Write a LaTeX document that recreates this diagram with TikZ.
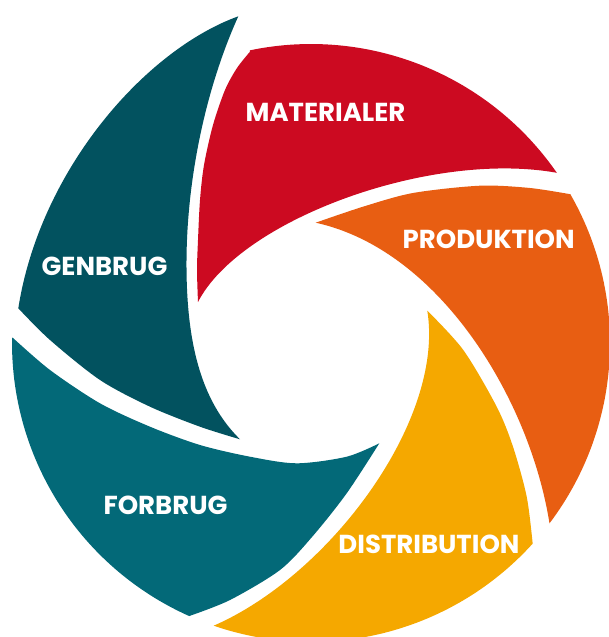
\documentclass[tikz,border=0pt]{standalone}
\usepackage{fontspec}
\setmainfont{Poppins}
\definecolor{matred}{HTML}{CC0A21}
\definecolor{prodorange}{HTML}{E85E12}
\definecolor{distyellow}{HTML}{F5A800}
\definecolor{forbteal}{HTML}{036978}
\definecolor{genbteal}{HTML}{02525F}
\tikzset{
  blade/.style={line join=round},
  lbl/.style={text=white, font=\bfseries\fontsize{26}{26}\selectfont, inner sep=0pt}
}

\begin{document}
\begin{tikzpicture}[x=1pt, y=-1pt]
\clip (0,0) rectangle (609,637);

% materialer
\fill[blade, matred] plot[domain=-101.8:-34.7, samples=60] ({311+299*cos(\x)}, {343+299*sin(\x)})
  .. controls (430,150) and (240,220) .. (198,302)
  -- plot[smooth] coordinates {(198,302) (197,270) (198,240) (200,200) (204,165) (213,125) (225,90) (237,68) (250,51.7)}
  -- cycle;

% produktion
\fill[blade, prodorange] plot[smooth] coordinates {(315.7,222.7) (363,206.7) (413,193) (480,185.7) (530,188) (570.7,194.3)}
  -- plot[domain=-29.8:37.1, samples=60] ({311+299*cos(\x)}, {343+299*sin(\x)})
  .. controls (530,400) and (440,250) .. (315.7,222.7)
  -- cycle;

% distribution
\fill[blade, distyellow] plot[smooth] coordinates {(427.3,310.7) (463.3,350) (496.7,406.7) (513,446.7) (526.7,496.7) (532.7,544)}
  -- plot[domain=42.2:109, samples=60] ({311+299*cos(\x)}, {343+299*sin(\x)})
  .. controls (330,575) and (445,420) .. (427.3,310.7)
  -- cycle;

% forbrug
\fill[blade, forbteal] plot[domain=114:181, samples=60] ({311+299*cos(\x)}, {343+299*sin(\x)})
  -- plot[smooth] coordinates {(12.7,337.7) (50,370) (100,403.3) (150,426.7) (200,445) (250,456.7) (296.7,463.3) (346.7,456.7) (379.3,443.3)}
  -- plot[smooth] coordinates {(379.3,443.3) (346.7,493.3) (312,537) (280,570) (230,600) (189.3,616)}
  -- cycle;

% genbrug
\fill[blade, genbteal] (238.3,16.3) .. controls (145,50) and (40,170) .. (18.3,308.3)
  -- plot[smooth] coordinates {(18.3,308.3) (50,340) (100,380) (150,406.7) (200,426.7) (240,439.3)}
  .. controls (200,400) and (186,340) .. (186.5,260)
  .. controls (187,180) and (205,90) .. (238.3,16.3)
  -- cycle;

\node[lbl] (mat) at (325.5,112) {MATERIALER};
\node[lbl] (prod) at (488.7,239) {PRODUKTION};
\node[lbl] (dist) at (429,544) {DISTRIBUTION};
\node[lbl] (forb) at (165.5,505) {FORBRUG};
\node[lbl] (genb) at (104.5,266) {GENBRUG};
\end{tikzpicture}
\end{document}
